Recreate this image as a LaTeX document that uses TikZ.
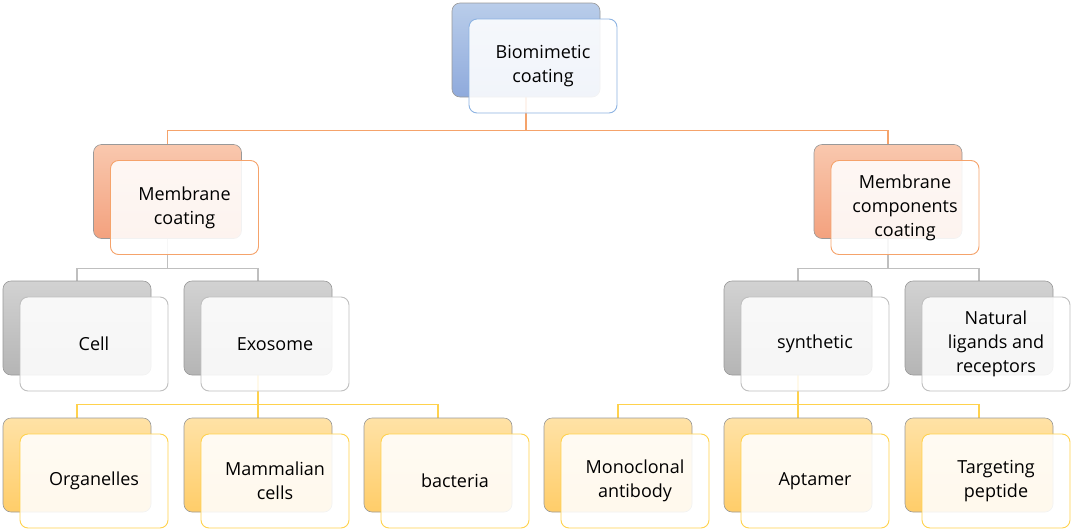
\documentclass[tikz,border=0pt]{standalone}
\usepackage{fontspec}
\setmainfont{Open Sans}
\usetikzlibrary{backgrounds}

\definecolor{bluetop}{HTML}{B9CDEA}
\definecolor{bluebot}{HTML}{8FAADC}
\definecolor{blueline}{HTML}{8DB3E2}
\definecolor{orangetop}{HTML}{F9C8AE}
\definecolor{orangebot}{HTML}{F3A17E}
\definecolor{orangeline}{HTML}{F5A36B}
\definecolor{graytop}{HTML}{D2D2D2}
\definecolor{graybot}{HTML}{B5B5B5}
\definecolor{grayline}{HTML}{BFBFBF}
\definecolor{yellowtop}{HTML}{FFE2A6}
\definecolor{yellowbot}{HTML}{FFCD69}
\definecolor{yellowline}{HTML}{FFD24D}

\begin{document}
\begin{tikzpicture}[
    x=1pt, y=-1pt,
    every node/.style={font=\fontsize{18}{24}\selectfont},
    back/.style={rounded corners=8pt, minimum width=148pt, minimum height=94pt, inner sep=0pt, draw=black!40, line width=0.6pt},
    front/.style={rounded corners=8pt, minimum width=148pt, minimum height=94pt, inner sep=0pt, align=center, fill=white, fill opacity=0.88, text opacity=1, line width=0.9pt, xshift=17pt, yshift=-16pt},
    blueback/.style={back, top color=bluetop, bottom color=bluebot},
    orangeback/.style={back, top color=orangetop, bottom color=orangebot},
    grayback/.style={back, top color=graytop, bottom color=graybot},
    yellowback/.style={back, top color=yellowtop, bottom color=yellowbot},
    link/.style={line width=1.1pt}
]
\useasboundingbox (0,0) rectangle (1072,531);

% Top
\node[blueback] (bio) at (526,50) {};
\node[front, draw=blueline] (bio-f) at (bio) {Biomimetic\\coating};

% Second level
\node[orangeback] (memc) at (167.5,191.5) {};
\node[front, draw=orangeline] (memc-f) at (memc) {Membrane\\coating};
\node[orangeback] (comp) at (888,191.5) {};
\node[front, draw=orangeline] (comp-f) at (comp) {Membrane\\components\\coating};

% Third level
\node[grayback] (cell) at (77,328) {};
\node[front, draw=grayline] (cell-f) at (cell) {Cell};
\node[grayback] (exo) at (258,328) {};
\node[front, draw=grayline] (exo-f) at (exo) {Exosome};
\node[grayback] (syn) at (798,328) {};
\node[front, draw=grayline] (syn-f) at (syn) {synthetic};
\node[grayback] (nat) at (979,328) {};
\node[front, draw=grayline] (nat-f) at (nat) {Natural\\ligands and\\receptors};

% Fourth level
\node[yellowback] (org) at (77,465) {};
\node[front, draw=yellowline] (org-f) at (org) {Organelles};
\node[yellowback] (mam) at (258,465) {};
\node[front, draw=yellowline] (mam-f) at (mam) {Mammalian\\cells};
\node[yellowback] (bac) at (438,465) {};
\node[front, draw=yellowline] (bac-f) at (bac) {bacteria};
\node[yellowback] (mono) at (618,465) {};
\node[front, draw=yellowline] (mono-f) at (mono) {Monoclonal\\antibody};
\node[yellowback] (apt) at (798,465) {};
\node[front, draw=yellowline] (apt-f) at (apt) {Aptamer};
\node[yellowback] (pep) at (979,465) {};
\node[front, draw=yellowline] (pep-f) at (pep) {Targeting\\peptide};

% Connectors
\begin{pgfonlayer}{background}
\draw[link, orangeline] (bio.south) -- ++(0,33) -| (memc.north);
\draw[link, orangeline] (bio.south) -- ++(0,33) -| (comp.north);
\draw[link, grayline] (memc.south) -- ++(0,30) -| (cell.north);
\draw[link, grayline] (memc.south) -- ++(0,30) -| (exo.north);
\draw[link, grayline] (comp.south) -- ++(0,30) -| (syn.north);
\draw[link, grayline] (comp.south) -- ++(0,30) -| (nat.north);
\draw[link, yellowline] (exo.south) -- ++(0,29) -| (org.north);
\draw[link, yellowline] (exo.south) -- ++(0,29) -| (mam.north);
\draw[link, yellowline] (exo.south) -- ++(0,29) -| (bac.north);
\draw[link, yellowline] (syn.south) -- ++(0,29) -| (mono.north);
\draw[link, yellowline] (syn.south) -- ++(0,29) -| (apt.north);
\draw[link, yellowline] (syn.south) -- ++(0,29) -| (pep.north);
\end{pgfonlayer}
\end{tikzpicture}
\end{document}
